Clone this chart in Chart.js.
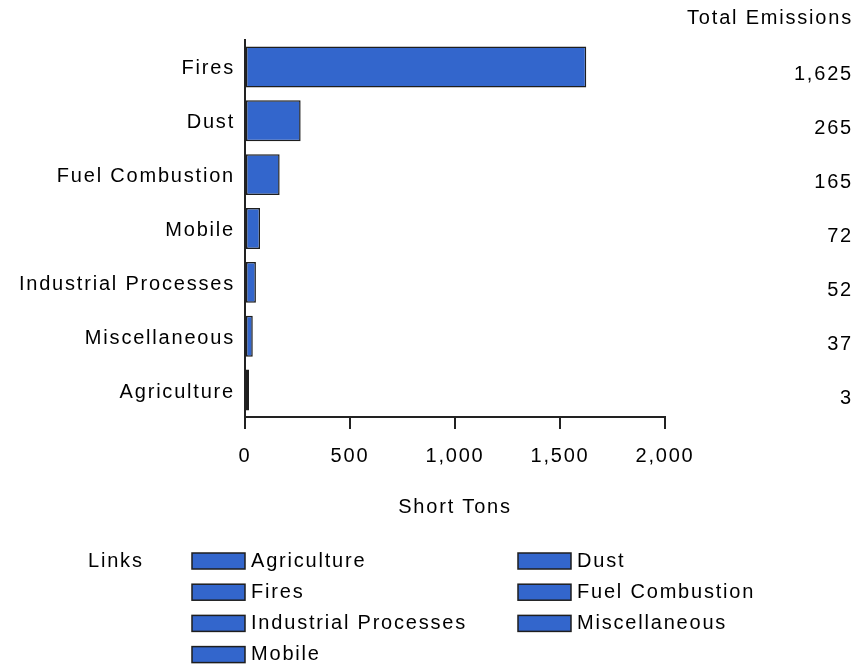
<!DOCTYPE html>
<html>
<head>
<meta charset="utf-8">
<script src="https://cdn.jsdelivr.net/npm/chart.js@4.4.1/dist/chart.umd.min.js"></script>
<style>
  html, body { margin: 0; padding: 0; background: #ffffff; }
  canvas { display: block; }
</style>
</head>
<body>
<canvas id="c" width="854" height="665"></canvas>
<script>
const categories = ['Fires', 'Dust', 'Fuel Combustion', 'Mobile', 'Industrial Processes', 'Miscellaneous', 'Agriculture'];
const emissions = [1625, 265, 165, 72, 52, 37, 3];
const totalLabels = ['1,625', '265', '165', '72', '52', '37', '3'];
const xTickValues = [0, 500, 1000, 1500, 2000];
const legendItems = ['Agriculture', 'Dust', 'Fires', 'Fuel Combustion', 'Industrial Processes', 'Miscellaneous', 'Mobile'];
const totalsTitle = 'Total Emissions';
const xAxisTitle = 'Short Tons';
const legendTitle = 'Links';

const FONT_FAMILY = '"Liberation Sans", Arial, Helvetica, sans-serif';
const FONT_SIZE = 20;
const LETTER_SPACING = '1.8px';
const BAR_COLOR = '#3366cc';
const BAR_BORDER = '#1e1e1e';
const AXIS_COLOR = '#222222';

function applySpacing(chart) {
  if (chart && chart.ctx) chart.ctx.letterSpacing = LETTER_SPACING;
}

const spacingPlugin = {
  id: 'spacing',
  afterInit: applySpacing,
  beforeUpdate: applySpacing,
  beforeLayout: applySpacing,
  beforeDraw: applySpacing
};

const extrasPlugin = {
  id: 'extras',
  afterDraw(chart) {
    const ctx = chart.ctx;
    const y = chart.scales.y;
    ctx.save();
    ctx.letterSpacing = LETTER_SPACING;
    ctx.font = FONT_SIZE + 'px ' + FONT_FAMILY;
    ctx.fillStyle = '#000';
    ctx.textBaseline = 'middle';
    // Totals column
    ctx.textAlign = 'right';
    const rightX = 853;
    ctx.fillText(totalsTitle, rightX, 18);
    totalLabels.forEach((t, i) => {
      ctx.fillText(t, rightX, y.getPixelForValue(i) + 8);
    });
    // Legend
    ctx.textAlign = 'left';
    ctx.fillText(legendTitle, 88, 561);
    const colX = [192, 518];
    const rowY0 = 561, rowStep = 31.2;
    const boxW = 53, boxH = 16;
    legendItems.forEach((name, i) => {
      const col = i % 2;
      const row = Math.floor(i / 2);
      const bx = colX[col];
      const cy = rowY0 + row * rowStep;
      ctx.fillStyle = BAR_COLOR;
      ctx.fillRect(bx, cy - boxH / 2, boxW, boxH);
      ctx.lineWidth = 1.5;
      ctx.strokeStyle = BAR_BORDER;
      ctx.strokeRect(bx, cy - boxH / 2, boxW, boxH);
      ctx.fillStyle = '#000';
      ctx.fillText(name, bx + boxW + 6, cy);
    });
    ctx.restore();
  }
};

new Chart(document.getElementById('c'), {
  type: 'bar',
  data: {
    labels: categories,
    datasets: [{
      data: emissions,
      backgroundColor: BAR_COLOR,
      borderColor: BAR_BORDER,
      borderWidth: 1.5,
      borderSkipped: false,
      barPercentage: 0.76,
      categoryPercentage: 1.0,
      minBarLength: 4
    }]
  },
  options: {
    indexAxis: 'y',
    responsive: false,
    animation: false,
    devicePixelRatio: 1,
    layout: { padding: { left: 0, right: 189, top: 40, bottom: 146 } },
    plugins: {
      legend: { display: false },
      tooltip: { enabled: false }
    },
    scales: {
      x: {
        type: 'linear',
        min: 0,
        max: 2000,
        afterBuildTicks(scale) {
          scale.ticks = xTickValues.map(v => ({ value: v }));
        },
        afterFit(scale) { scale.height = 102; },
        ticks: {
          color: '#000',
          font: { family: FONT_FAMILY, size: FONT_SIZE },
          padding: 15,
          maxRotation: 0,
          callback: (v) => Number(v).toLocaleString('en-US')
        },
        grid: {
          drawOnChartArea: false,
          drawTicks: true,
          tickLength: 12,
          color: AXIS_COLOR,
          lineWidth: 2
        },
        border: { display: true, color: AXIS_COLOR, width: 2 },
        title: {
          display: true,
          text: xAxisTitle,
          color: '#000',
          font: { family: FONT_FAMILY, size: FONT_SIZE },
          padding: { top: 0, bottom: 0 }
        }
      },
      y: {
        afterFit(scale) { scale.width = 245; },
        ticks: {
          color: '#000',
          font: { family: FONT_FAMILY, size: FONT_SIZE },
          padding: 10,
          labelOffset: 2
        },
        grid: { display: false, drawTicks: false },
        border: { display: true, color: AXIS_COLOR, width: 2 }
      }
    }
  },
  plugins: [spacingPlugin, extrasPlugin]
});
</script>
</body>
</html>
